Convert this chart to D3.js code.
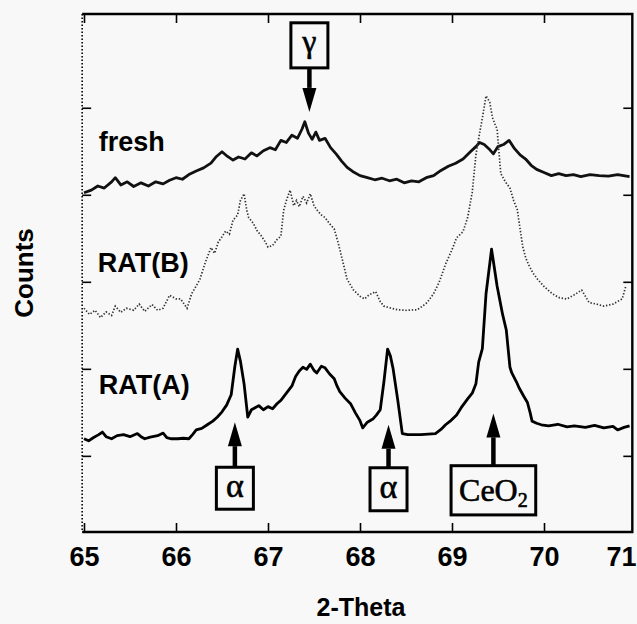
<!DOCTYPE html>
<html><head><meta charset="utf-8">
<script src="https://cdn.jsdelivr.net/npm/d3@7"></script>
<style>
html,body{margin:0;padding:0;background:#f7f8f7;}
svg{display:block;}
</style></head><body>
<svg id="chart" width="637" height="624"></svg>
<script>
// ---------- data ----------
const xTicks = [65, 66, 67, 68, 69, 70, 71];
const yTicks = [147, 315, 483, 651, 819];
const xTitle = "2-Theta";
const yTitle = "Counts";

const seriesNames = ["fresh", "RAT(B)", "RAT(A)"];
const seriesLabel2Theta = [65.16, 65.15, 65.16];
const seriesLabelCounts = [735, 502, 266];

const fresh2Theta = [65.00,65.08,65.15,65.22,65.30,65.34,65.40,65.47,65.54,65.62,65.70,65.78,65.86,65.93,66.00,66.07,66.14,66.22,66.30,66.38,66.44,66.50,66.56,66.62,66.68,66.75,66.82,66.88,66.95,67.02,67.08,67.14,67.20,67.26,67.32,67.37,67.40,67.44,67.48,67.52,67.56,67.62,67.68,67.74,67.80,67.86,67.92,68.00,68.08,68.16,68.24,68.32,68.40,68.48,68.56,68.64,68.72,68.80,68.88,68.96,69.04,69.12,69.20,69.26,69.30,69.35,69.40,69.45,69.50,69.56,69.62,69.68,69.74,69.80,69.86,69.92,70.00,70.08,70.16,70.24,70.32,70.40,70.50,70.60,70.70,70.80,70.93];
const freshCounts = [655,660,668,664,676,684,670,676,667,674,668,676,672,679,684,681,690,697,703,712,725,734,725,718,724,720,732,726,736,742,738,756,752,766,760,778,792,770,758,772,756,760,742,730,716,704,696,688,684,680,683,678,681,674,678,676,684,688,698,706,712,720,734,744,752,748,740,730,744,748,756,740,728,720,708,700,694,688,692,688,690,686,690,688,687,690,686];

const ratB2Theta = [65.00,65.06,65.12,65.18,65.24,65.30,65.34,65.40,65.46,65.54,65.60,65.66,65.74,65.80,65.86,65.93,66.00,66.05,66.12,66.17,66.22,66.26,66.32,66.38,66.42,66.46,66.50,66.54,66.58,66.62,66.67,66.70,66.74,66.77,66.79,66.84,66.88,66.93,66.97,67.00,67.05,67.10,67.14,67.17,67.20,67.24,67.28,67.31,67.34,67.38,67.42,67.46,67.50,67.53,67.58,67.62,67.67,67.72,67.76,67.78,67.82,67.86,67.90,67.93,68.00,68.05,68.10,68.17,68.22,68.26,68.34,68.41,68.50,68.62,68.68,68.73,68.80,68.86,68.93,69.00,69.05,69.12,69.17,69.22,69.26,69.30,69.33,69.37,69.41,69.44,69.47,69.49,69.53,69.58,69.63,69.67,69.71,69.74,69.77,69.80,69.83,69.88,69.93,70.00,70.09,70.17,70.25,70.33,70.41,70.49,70.57,70.65,70.75,70.85,70.89];
const ratBCounts = [432,420,428,414,425,418,436,424,432,428,440,426,439,428,432,457,450,450,432,460,475,488,521,549,538,560,570,581,575,602,612,640,653,620,607,596,582,571,560,550,553,565,571,621,640,660,630,640,628,648,635,653,630,622,612,607,595,585,560,546,517,488,476,467,455,450,458,464,445,436,432,429,428,429,436,443,460,482,517,545,568,580,607,656,728,770,799,842,830,800,786,778,692,676,664,640,622,585,550,530,517,500,488,474,460,452,450,458,467,443,440,436,440,450,475];

const ratA2Theta = [65.00,65.05,65.10,65.16,65.20,65.24,65.30,65.36,65.43,65.50,65.58,65.62,65.66,65.72,65.80,65.86,65.90,65.95,66.02,66.08,66.14,66.18,66.22,66.28,66.34,66.40,66.45,66.50,66.55,66.60,66.64,66.67,66.70,66.74,66.78,66.82,66.86,66.90,66.95,67.00,67.05,67.10,67.14,67.20,67.26,67.30,67.34,67.38,67.42,67.46,67.50,67.53,67.58,67.62,67.67,67.72,67.75,67.78,67.84,67.90,67.95,68.00,68.03,68.08,68.14,68.18,68.22,68.26,68.30,68.33,68.36,68.41,68.46,68.52,68.58,68.66,68.74,68.82,68.88,68.93,68.98,69.05,69.10,69.17,69.22,69.26,69.29,69.33,69.37,69.43,69.49,69.55,69.59,69.63,69.65,69.70,69.73,69.78,69.82,69.85,69.87,69.92,69.97,70.05,70.15,70.25,70.33,70.45,70.55,70.65,70.75,70.80,70.87,70.93];
const ratACounts = [180,176,182,188,193,184,180,186,188,184,190,184,180,183,186,191,182,180,180,181,180,188,197,200,207,214,222,232,245,265,320,353,330,286,222,236,240,244,236,242,238,248,254,268,282,300,311,318,314,324,312,307,320,317,305,296,282,271,258,247,230,215,201,212,218,226,236,290,353,340,315,255,190,188,188,188,189,190,198,207,214,226,240,257,268,286,328,354,460,546,475,420,390,318,307,290,278,262,250,230,214,210,207,205,208,203,205,202,206,201,204,197,202,205];

const annotLabels = ["γ", "α", "α", "CeO2"];
const annot2Theta = [67.45, 66.64, 68.31, 69.45];
const annotTipCounts = [811, 212, 207, 229];
const annotBoxNearCounts = [896, 125, 124, 128];
const annotBoxFarCounts = [983, 44, 41, 33];

// ---------- drawing ----------
const W = 637, H = 624;
const sans = "'Liberation Sans', Arial, Helvetica, sans-serif";
const serif = "'Liberation Serif', 'Times New Roman', serif";
const x = d3.scaleLinear().domain([65, 71]).range([84, 636]);
const y = d3.scaleLinear().domain([0, 1000]).range([532, 14]);
const svg = d3.select("#chart");
svg.append("rect").attr("width", W).attr("height", H).attr("fill", "#f7f8f7");

const xL = x(64.98), xR = x(70.96), yT = y(1000), yB = y(0);

function styleAxis(g) {
  g.select(".domain").remove();
  g.selectAll(".tick line").attr("stroke", "#000").attr("stroke-width", 1.6);
}
const gB = svg.append("g").attr("transform", `translate(0,${yB})`)
  .call(d3.axisBottom(x).tickValues(xTicks).tickSizeInner(-9).tickSizeOuter(0).tickPadding(15).tickFormat(d3.format("d")));
styleAxis(gB);
gB.selectAll("text").attr("font-family", sans).attr("font-size", 27).attr("font-weight", "bold").attr("fill", "#000")
  .attr("dx", d => d === 71 ? -15 : 0);
gB.selectAll(".tick").filter(d => d === 71).select("line").remove();

const gT = svg.append("g").attr("transform", `translate(0,${yT})`)
  .call(d3.axisTop(x).tickValues(xTicks.filter(d => d < 71)).tickSizeInner(-9).tickSizeOuter(0).tickFormat(""));
styleAxis(gT);
const gL = svg.append("g").attr("transform", `translate(${xL},0)`)
  .call(d3.axisLeft(y).tickValues(yTicks).tickSizeInner(-9).tickSizeOuter(0).tickFormat(""));
styleAxis(gL);
const gR = svg.append("g").attr("transform", `translate(${xR},0)`)
  .call(d3.axisRight(y).tickValues(yTicks).tickSizeInner(-9).tickSizeOuter(0).tickFormat(""));
styleAxis(gR);

// frame
svg.append("path").attr("d", `M${xL},${yT}H${xR}V${yB}H${xL}`)
  .attr("fill", "none").attr("stroke", "#000").attr("stroke-width", 2.4);
svg.append("line").attr("x1", xL).attr("x2", xL).attr("y1", yT).attr("y2", yB)
  .attr("stroke", "#000").attr("stroke-width", 1.6).attr("stroke-dasharray", "1.5,2");

// series
const line = d3.line().x(d => x(d[0])).y(d => y(d[1]));
const zip = (a, b) => a.map((v, i) => [v, b[i]]);
svg.append("path").datum(zip(fresh2Theta, freshCounts)).attr("d", line)
  .attr("fill", "none").attr("stroke", "#111").attr("stroke-width", 2.8).attr("stroke-linejoin", "round");
svg.append("path").datum(zip(ratB2Theta, ratBCounts)).attr("d", line)
  .attr("fill", "none").attr("stroke", "#333").attr("stroke-width", 1.7).attr("stroke-dasharray", "1.4,1.8");
svg.append("path").datum(zip(ratA2Theta, ratACounts)).attr("d", line)
  .attr("fill", "none").attr("stroke", "#000").attr("stroke-width", 2.8).attr("stroke-linejoin", "round");

// series labels
seriesNames.forEach((n, i) => {
  svg.append("text").attr("x", x(seriesLabel2Theta[i])).attr("y", y(seriesLabelCounts[i]))
    .attr("font-family", sans).attr("font-size", 27).attr("font-weight", "bold").attr("fill", "#000").text(n);
});

// annotations: boxed labels with arrows
annotLabels.forEach((lab, i) => {
  const cx = x(annot2Theta[i]);
  const tip = y(annotTipCounts[i]);
  const near = y(annotBoxNearCounts[i]);
  const far = y(annotBoxFarCounts[i]);
  const top = Math.min(near, far), bot = Math.max(near, far);
  const dir = tip < near ? -1 : 1;
  const g = svg.append("g");
  const t = g.append("text").attr("x", cx).attr("text-anchor", "middle")
    .attr("font-family", serif).attr("fill", "#000").attr("stroke", "#000").attr("stroke-width", 0.6);
  if (lab === "CeO2") {
    t.attr("font-size", 32).attr("y", (top + bot) / 2 + 11);
    t.append("tspan").text("CeO");
    t.append("tspan").text("2").attr("font-size", 20).attr("dy", 6);
  } else if (lab === "γ") {
    t.attr("font-size", 32).attr("y", (top + bot) / 2 + 7).text(lab);
  } else {
    t.attr("font-size", 34).attr("y", (top + bot) / 2 + 9).text(lab);
  }
  const bb = t.node().getBBox();
  const bw = Math.max(bb.width + 16, 37);
  g.insert("rect", "text").attr("x", cx - bw / 2).attr("y", top).attr("width", bw).attr("height", bot - top)
    .attr("fill", "#f7f8f7").attr("stroke", "#000").attr("stroke-width", 3);
  const headLen = 24, headHalf = 7;
  const base = tip - dir * headLen;
  g.append("line").attr("x1", cx).attr("x2", cx).attr("y1", near).attr("y2", base)
    .attr("stroke", "#000").attr("stroke-width", 4.5);
  g.append("path").attr("d", `M${cx},${tip}L${cx - headHalf},${base}L${cx + headHalf},${base}Z`).attr("fill", "#000");
});

// axis titles
svg.append("text").attr("x", 361).attr("y", 616).attr("text-anchor", "middle")
  .attr("font-family", sans).attr("font-size", 25).attr("font-weight", "bold").text(xTitle);
svg.append("text").attr("transform", "translate(33,273) rotate(-90)").attr("text-anchor", "middle")
  .attr("font-family", sans).attr("font-size", 26).attr("font-weight", "bold").text(yTitle);
</script>
</body></html>
